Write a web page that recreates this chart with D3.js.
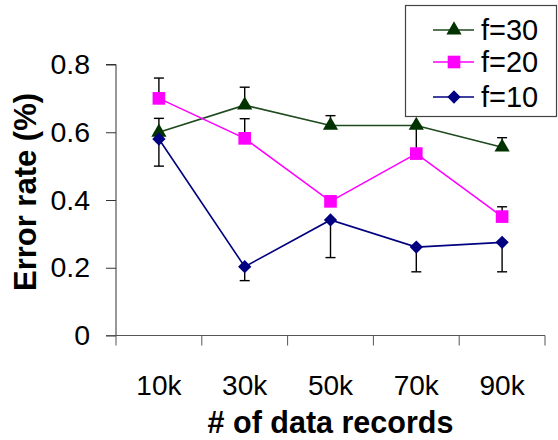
<!DOCTYPE html>
<html><head><meta charset="utf-8">
<script src="https://cdn.jsdelivr.net/npm/d3@7"></script>
<style>body{margin:0;background:#fff}svg{display:block;font-family:"Liberation Sans",Arial,sans-serif}</style>
</head><body><svg id="c" width="558" height="440"></svg>
<script>
const categories = ["10k","30k","50k","70k","90k"];
const yTicks = [0, 0.2, 0.4, 0.6, 0.8];
const seriesNames = ["f=30","f=20","f=10"];
const f30 = [0.60, 0.68, 0.62, 0.62, 0.556];
const f20 = [0.70, 0.582, 0.396, 0.537, 0.351];
const f10 = [0.58, 0.203, 0.341, 0.261, 0.275];
// error bar end values (null = none)
const f30Err = [0.641, 0.733, 0.649, null, 0.584];
const f20Err = [0.76, 0.64, null, 0.62, 0.38];
const f10Err = [0.50, 0.162, 0.23, 0.188, 0.188];
const colors = {"f=30":"#003300","f=20":"#ff00ff","f=10":"#000080"};
const lineColors = {"f=30":"#1e4a1e","f=20":"#ff00ff","f=10":"#000080"};
const shapes = {"f=30":d3.symbolTriangle,"f=20":d3.symbolSquare,"f=10":d3.symbolSquare};
const rot = {"f=30":0,"f=20":0,"f=10":45};

const series = [
  {name:"f=30", values:f30, err:f30Err},
  {name:"f=20", values:f20, err:f20Err},
  {name:"f=10", values:f10, err:f10Err}
];

const svg = d3.select("#c");
const L=116, R=545, T=64.5, B=335.5;
const x = d3.scaleBand().domain(categories).range([L,R]);
const y = d3.scaleLinear().domain([0,0.8]).range([B,T]);
const cx = c => x(c) + x.bandwidth()/2;

// y axis
const ya = svg.append("g").attr("transform",`translate(${L},0)`)
  .call(d3.axisLeft(y).tickValues(yTicks).tickFormat(d=>d===0?"0":d3.format(".1f")(d)).tickSize(10).tickPadding(16));
ya.select(".domain").attr("stroke","#333").attr("d",`M-10,${T}H0V${B}`);
ya.selectAll(".tick line").attr("stroke","#333");
ya.selectAll("text").attr("font-size",28.5).attr("fill","#000").attr("font-family","Liberation Sans, Arial, sans-serif");

// x axis
const xa = svg.append("g").attr("transform",`translate(0,${B})`)
  .call(d3.axisBottom(x).tickSize(0).tickPadding(40));
xa.select(".domain").remove();
xa.selectAll("text").attr("font-size",28).attr("fill","#000").attr("font-family","Liberation Sans, Arial, sans-serif");
svg.append("line").attr("x1",L-10).attr("x2",R).attr("y1",B).attr("y2",B).attr("stroke","#555");
const bounds = categories.map(c=>x(c)).concat([R]);
svg.selectAll(".xt").data(bounds).enter().append("line")
  .attr("x1",d=>d).attr("x2",d=>d).attr("y1",B).attr("y2",B+10).attr("stroke","#555");

// titles
svg.append("text").attr("x",(L+R)/2).attr("y",433).attr("text-anchor","middle")
  .attr("font-size",30.5).attr("font-weight","bold").text("# of data records");
svg.append("text").attr("transform",`translate(36,192) rotate(-90)`).attr("text-anchor","middle")
  .attr("font-size",31).attr("font-weight","bold").text("Error rate (%)");

// error bars
series.forEach(s=>{
  s.err.forEach((e,i)=>{
    if(e===null) return;
    const xc = cx(categories[i]);
    const g = svg.append("g").attr("stroke","#000").attr("stroke-width",1.4);
    g.append("line").attr("x1",xc).attr("x2",xc).attr("y1",y(s.values[i])).attr("y2",y(e));
    g.append("line").attr("x1",xc-5).attr("x2",xc+5).attr("y1",y(e)).attr("y2",y(e));
  });
});

// lines and markers
const line = d3.line().x((d,i)=>cx(categories[i])).y(d=>y(d));
series.forEach(s=>{
  svg.append("path").datum(s.values).attr("d",line).attr("fill","none")
    .attr("stroke",lineColors[s.name]).attr("stroke-width",1.6);
});
const symSize = {"f=30":100,"f=20":160,"f=10":88};
series.forEach(s=>{
  svg.selectAll(null).data(s.values).enter().append("path")
    .attr("d",d3.symbol().type(shapes[s.name]).size(symSize[s.name]))
    .attr("transform",(d,i)=>`translate(${cx(categories[i])},${y(d)}) rotate(${rot[s.name]})`)
    .attr("fill",colors[s.name]);
});

// legend
const lg = svg.append("g");
lg.append("rect").attr("x",405.5).attr("y",5.5).attr("width",151).attr("height",111)
  .attr("fill","#fff").attr("stroke","#444").attr("stroke-width",1.2);
const ly = [30, 62, 97];
seriesNames.forEach((n,i)=>{
  lg.append("line").attr("x1",433).attr("x2",474).attr("y1",ly[i]).attr("y2",ly[i])
    .attr("stroke",lineColors[n]).attr("stroke-width",1.6);
  lg.append("path").attr("d",d3.symbol().type(shapes[n]).size(symSize[n]))
    .attr("transform",`translate(454,${ly[i]}) rotate(${rot[n]})`).attr("fill",colors[n]);
  lg.append("text").attr("x",481).attr("y",ly[i]+10).attr("font-size",29).text(n);
});
</script></body></html>
